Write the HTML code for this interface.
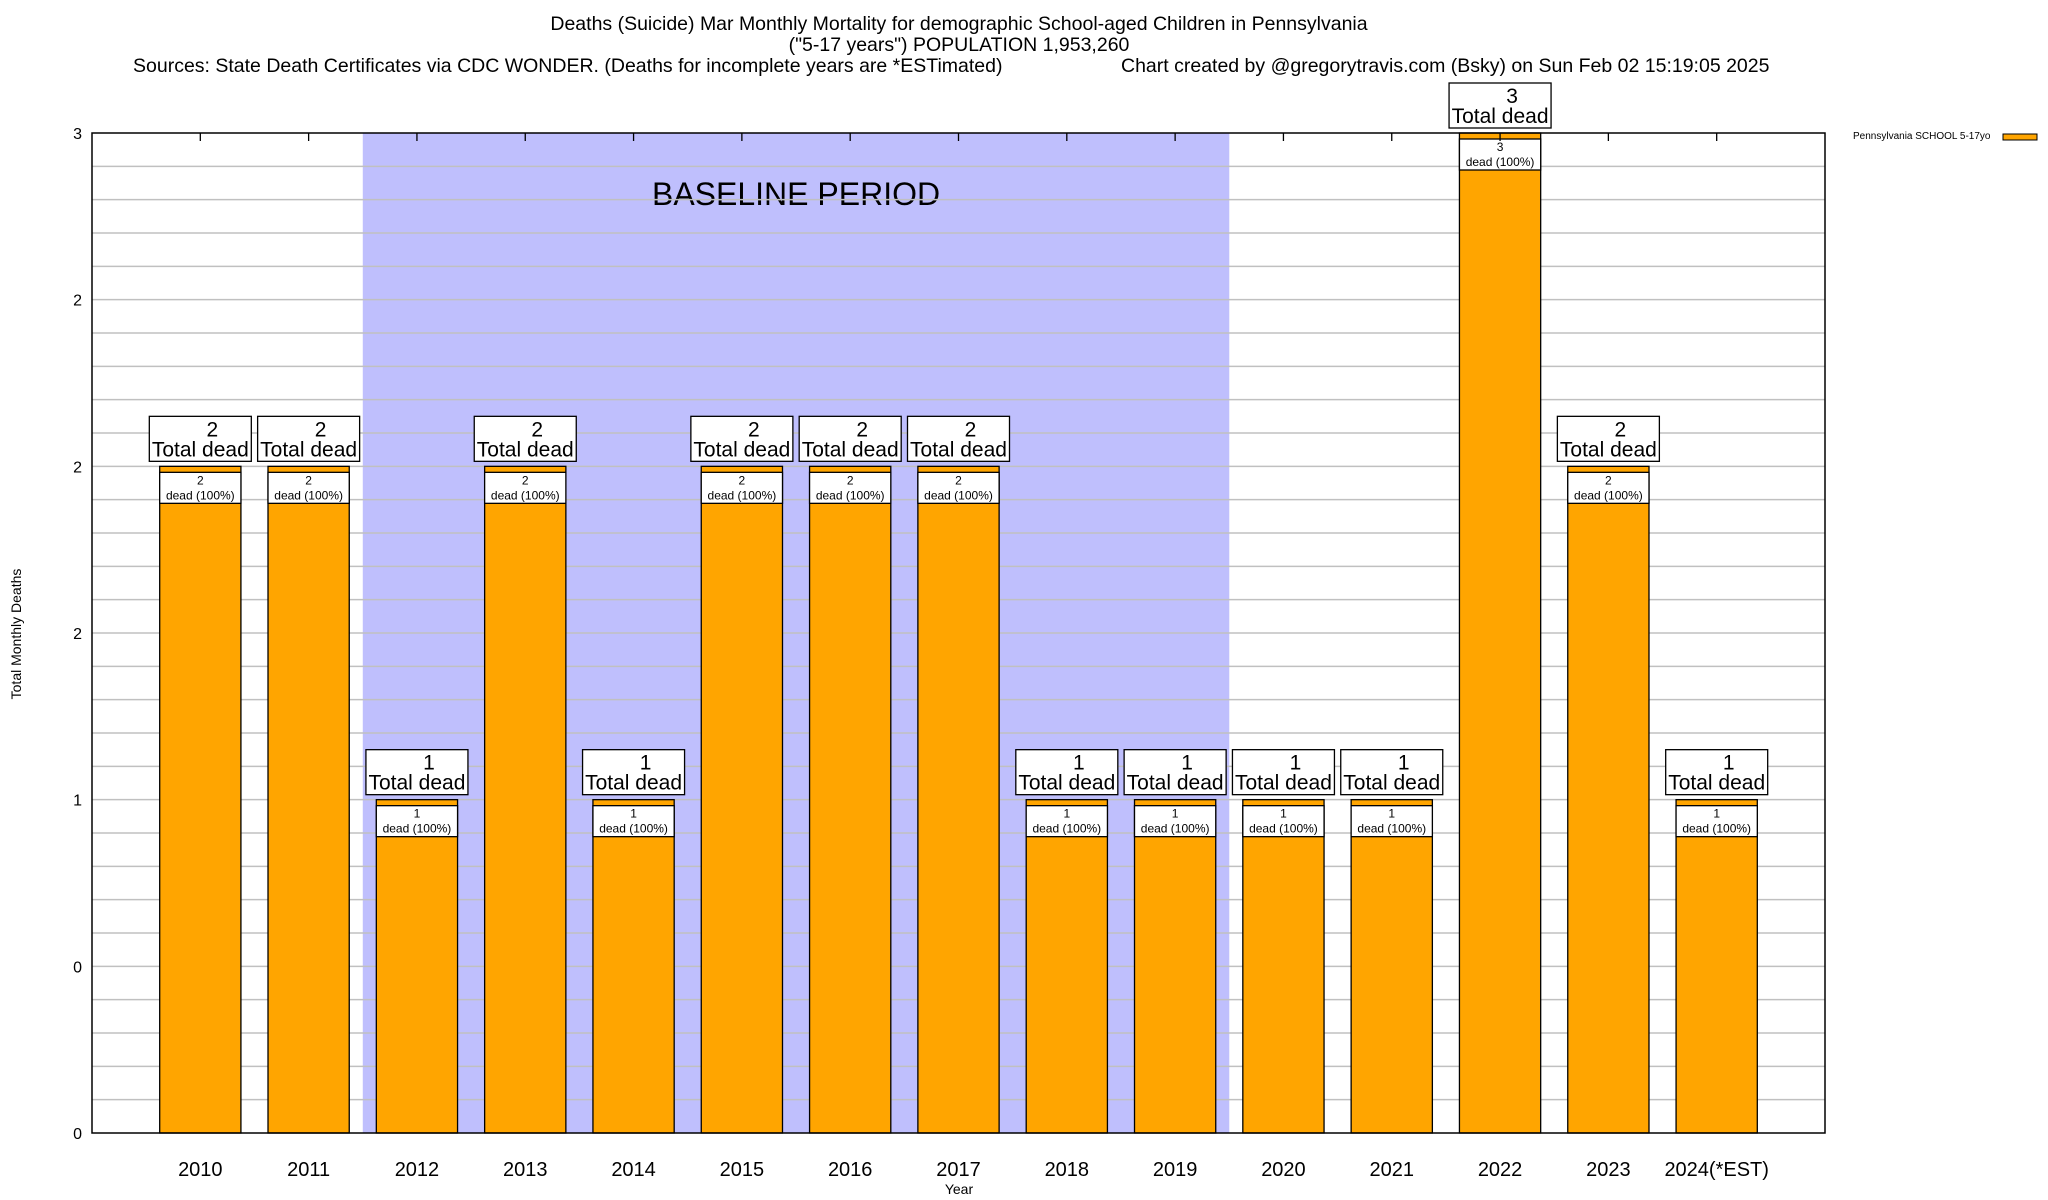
<!DOCTYPE html>
<html><head><meta charset="utf-8"><style>
body{margin:0;background:#fff;}
svg{display:block;font-family:"Liberation Sans",Arial,sans-serif;}
</style></head><body>
<svg id="chart" width="2048" height="1200" viewBox="0 0 2048 1200">
<rect x="0" y="0" width="2048" height="1200" fill="#fff"/>
<text x="959" y="30" font-size="19.5" text-anchor="middle">Deaths (Suicide) Mar Monthly Mortality for demographic School-aged Children in Pennsylvania</text>
<text x="959" y="51" font-size="19.5" text-anchor="middle">("5-17 years") POPULATION 1,953,260</text>
<text x="133" y="72" font-size="19.5">Sources: State Death Certificates via CDC WONDER. (Deaths for incomplete years are *ESTimated)</text>
<text x="1121" y="72" font-size="19.5">Chart created by @gregorytravis.com (Bsky) on Sun Feb 02 15:19:05 2025</text>
<g id="plot"></g>
<text transform="translate(21,634) rotate(-90)" font-size="14" text-anchor="middle">Total Monthly Deaths</text>
<text x="959" y="1194" font-size="14" text-anchor="middle">Year</text>
<text x="1853" y="139" font-size="10">Pennsylvania SCHOOL 5-17yo</text>
<rect x="2003" y="134" width="34" height="6" fill="#ffa500" stroke="#000" stroke-width="1"/>
</svg>
<script>
const categories = ["2010","2011","2012","2013","2014","2015","2016","2017","2018","2019","2020","2021","2022","2023","2024(*EST)"];
const deaths = [2,2,1,2,1,2,2,2,1,1,1,1,3,2,1];
const yTickValues = [0,0.5,1,1.5,2,2.5,3];
const yTickLabels = ["0","0","1","2","2","2","3"];
const baselineStart = 1.5, baselineEnd = 9.5;

const L=92, R=1825, T=133, B=1133;
const yMin=0, yMax=3, xMin=-1, xMax=categories.length;
const NS="http://www.w3.org/2000/svg";
const g=document.getElementById('plot');
function X(v){return L+(v-xMin)/(xMax-xMin)*(R-L);}
function Y(v){return B-(v-yMin)/(yMax-yMin)*(B-T);}
function mk(tag,attrs,parent){const e=document.createElementNS(NS,tag);for(const k in attrs)e.setAttribute(k,attrs[k]);(parent||g).appendChild(e);return e;}
const unit=X(1)-X(0);

let sh=mk('rect',{x:X(baselineStart),y:T,width:X(baselineEnd)-X(baselineStart),height:B-T,fill:'#bfbffd'});


let st=mk('text',{x:(X(baselineStart)+X(baselineEnd))/2,y:205,'font-size':32,'text-anchor':'middle'});
st.textContent='BASELINE PERIOD';



for(let i=1;i<30;i++){
  const v=i*0.1;
  const ln=mk('line',{x1:L,x2:R,y1:Y(v),y2:Y(v),stroke:'#c0c0c0','stroke-width':1.5});
  
  
}
yTickValues.forEach((v,i)=>{
  const t=mk('text',{x:L-10,y:Y(v)+6,'font-size':16,'text-anchor':'end'});
  t.textContent=yTickLabels[i];
  
  
});
categories.forEach((c,i)=>{
  const cx=X(i), bw=unit*0.75, v=deaths[i], top=Y(v);
  const b=mk('rect',{x:cx-bw/2,y:top,width:bw,height:B-top,fill:'#ffa500',stroke:'#000','stroke-width':1.3});
  
  
  const ib=mk('rect',{x:cx-bw/2,y:top+6,width:bw,height:31,fill:'#fff',stroke:'#000','stroke-width':1.3});
  
  
  const t1=mk('text',{x:cx,y:top+18,'font-size':12,'text-anchor':'middle'});t1.textContent=v;
  
  
  const t2=mk('text',{x:cx,y:top+33,'font-size':12,'text-anchor':'middle'});t2.textContent='dead (100%)';
  
  
  const ob=mk('rect',{x:cx-51,y:top-50,width:102,height:45,fill:'#fff',stroke:'#000','stroke-width':1.3});
  
  
  const t3=mk('text',{x:cx+12,y:top-30,'font-size':21,'text-anchor':'middle'});t3.textContent=v;
  
  
  const t4=mk('text',{x:cx,y:top-10,'font-size':21,'text-anchor':'middle'});t4.textContent='Total dead';
  
  
  const xl=mk('text',{x:cx,y:1176,'font-size':20,'text-anchor':'middle'});xl.textContent=c;
  
  
  const tk=mk('line',{x1:cx,x2:cx,y1:T,y2:T+8,stroke:'#000','stroke-width':1.3});
  
  
});
const fr=mk('rect',{x:L,y:T,width:R-L,height:B-T,fill:'none',stroke:'#000','stroke-width':1.5});


</script>
</body></html>
